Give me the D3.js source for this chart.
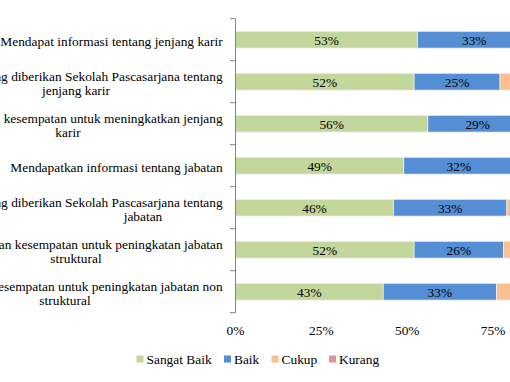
<!DOCTYPE html>
<html><head><meta charset="utf-8">
<script src="https://cdn.jsdelivr.net/npm/d3@7"></script>
<style>body{margin:0;background:#fff;}svg{display:block;}</style>
</head><body>
<svg id="c" width="510" height="382" style="font-family:'Liberation Serif',serif"></svg>
<script>
const categories = [
  "Mendapat informasi tentang jenjang karir",
  "Informasi yang diberikan Sekolah Pascasarjana tentang\njenjang karir",
  "Mendapatkan kesempatan untuk meningkatkan jenjang\nkarir",
  "Mendapatkan informasi tentang jabatan",
  "Informasi yang diberikan Sekolah Pascasarjana tentang\njabatan",
  "Mendapatkan kesempatan untuk peningkatan jabatan\nstruktural",
  "Mendapatkan kesempatan untuk peningkatan jabatan non\nstruktural"
];
const seriesNames = ["Sangat Baik", "Baik", "Cukup", "Kurang"];
const sangatBaik = [53, 52, 56, 49, 46, 52, 43];
const baik       = [33, 25, 29, 32, 33, 26, 33];
const cukup      = [13, 20, 13, 17, 19, 20, 21];
const kurang     = [1, 3, 2, 2, 2, 2, 3];
const tickValues = [0, 25, 50, 75, 100];
const colors = ["#C3D69B", "#558ED5", "#FAC090", "#D99694"];

// layout: centre x of each label's second line (as laid out in the original)
const secondLineCenter = [null, 76, 68, null, 143, 76, 65];

const FONT = "Liberation Serif";
const FS = 13.4;
const svg = d3.select("#c");
const x = d3.scaleLinear().domain([0, 100]).range([235.5, 579]);
const y = d3.scaleBand().domain(d3.range(categories.length)).range([18.7, 312.7]).paddingInner(0.6).paddingOuter(0.3);

function txt(sel) {
  return sel.style("font-family", FONT).style("font-size", FS + "px").attr("fill", "#000");
}

const rows = categories.map((c, i) => {
  const vals = [sangatBaik[i], baik[i], cukup[i], kurang[i]];
  let acc = 0;
  return vals.map((v, k) => { const s = {i, k, x0: acc, x1: acc + v, v}; acc += v; return s; });
});

const g = svg.append("g");
rows.forEach(segs => {
  g.selectAll(null).data(segs).enter().append("rect")
    .attr("x", d => x(d.x0)).attr("width", d => x(d.x1) - x(d.x0))
    .attr("y", d => y(d.i)).attr("height", y.bandwidth())
    .attr("fill", d => colors[d.k]).attr("stroke", "#f2f2f2").attr("stroke-width", 0.7);
  txt(g.selectAll(null).data(segs.filter(d => d.v >= 5)).enter().append("text")
    .attr("x", d => (x(d.x0) + x(d.x1)) / 2).attr("y", d => y(d.i) + y.bandwidth() / 2 + 0.8)
    .attr("dy", "0.35em").attr("text-anchor", "middle"))
    .text(d => d.v + "%");
});

// y axis
const axis = svg.append("g");
axis.append("line").attr("x1", 235.5).attr("x2", 235.5).attr("y1", 18.7).attr("y2", 312.7)
  .attr("stroke", "#868686").attr("stroke-width", 1);
const bounds = d3.range(categories.length + 1).map(i => 18.7 + i * 42);
axis.selectAll(null).data(bounds).enter().append("line")
  .attr("x1", 230).attr("x2", 235.5).attr("y1", d => d).attr("y2", d => d)
  .attr("stroke", "#868686").attr("stroke-width", 1);

// category labels
const labelRight = 222.7;
categories.forEach((c, i) => {
  const lines = c.split("\n");
  const cy = y(i) + y.bandwidth() / 2;
  const t = svg.append("g");
  if (lines.length === 1) {
    txt(t.append("text")).attr("text-anchor", "end").attr("x", labelRight)
      .attr("y", cy + 1.2).attr("dy", "0.35em").text(lines[0]);
  } else {
    txt(t.append("text")).attr("text-anchor", "end").attr("x", labelRight)
      .attr("y", cy - 5.6).attr("dy", "0.35em").text(lines[0]);
    txt(t.append("text")).attr("text-anchor", "middle").attr("x", secondLineCenter[i])
      .attr("y", cy + 8.8).attr("dy", "0.35em").text(lines[1]);
  }
});

// x tick labels
txt(svg.selectAll(null).data(tickValues).enter().append("text")
  .attr("x", d => x(d)).attr("y", 330).attr("dy", "0.35em").attr("text-anchor", "middle"))
  .text(d => d + "%");

// legend
const legX = [136.5, 224, 271.5, 329];
const leg = svg.selectAll(null).data(seriesNames).enter().append("g")
  .attr("transform", (d, k) => `translate(${legX[k]},359)`);
leg.append("rect").attr("x", 0).attr("y", -3.5).attr("width", 7).attr("height", 7)
  .attr("fill", (d, k) => colors[k]);
txt(leg.append("text").attr("x", 10).attr("dy", "0.35em")).text(d => d);
</script>
</body></html>
